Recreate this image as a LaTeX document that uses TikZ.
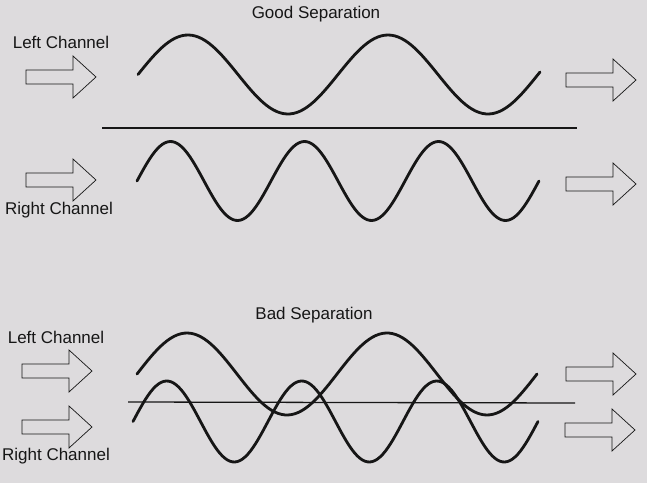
\documentclass[tikz,border=0pt]{standalone}
\usepackage{fontspec}
\setmainfont{Liberation Sans}
\definecolor{paper}{RGB}{221,219,221}
\definecolor{ink}{RGB}{22,22,22}

\begin{document}
\begin{tikzpicture}[x=0.03cm, y=-0.03cm, label/.style={anchor=base, inner sep=0pt, text=ink, font=\fontsize{14.5}{17}\selectfont}, wave/.style={draw=ink, line width=2.4pt, line cap=round, line join=round}, divider/.style={draw=ink, line width=1.4pt}, chanarrow/.pic={\draw[ink, line width=0.6pt, line join=miter] (0,-7) -- (47,-7) -- (47,-21) -- (70,0) -- (47,21) -- (47,7) -- (0,7) -- cycle;}]
\fill[paper] (0,0) rectangle (647,483);
\useasboundingbox (0,0) rectangle (647,483);
% good separation
\node[label] (goodtitle) at (316,19) {Good Separation};
\node[label] (goodleft) at (61,49) {Left Channel};
\node[label] (goodright) at (59,215) {Right Channel};
\pic at (26,77) {chanarrow};
\pic at (26,180) {chanarrow};
\pic at (566,80) {chanarrow};
\pic at (566,184) {chanarrow};
\draw[wave] plot[domain=138:540, samples=120] (\x, {74.5-39.5*sin(1.8*(\x-138))});
\draw[divider] (102,128) -- (577,128);
\draw[wave] plot[domain=137:539, samples=160] (\x, {181-39.5*sin(2.6866*(\x-137))});
% bad separation
\node[label] (badtitle) at (314,319) {Bad Separation};
\node[label] (badleft) at (56,343) {Left Channel};
\node[label] (badright) at (56,460) {Right Channel};
\pic at (22,371) {chanarrow};
\pic at (22,427) {chanarrow};
\pic at (566,374) {chanarrow};
\pic at (565,430) {chanarrow};
\draw[wave] plot[domain=137:537, samples=120] (\x, {374-41*sin(1.8*(\x-137))});
\draw[divider, line width=1.1pt] (128,402) -- (575,403);
\draw[wave] plot[domain=133:538, samples=160] (\x, {421.5-40.5*sin(2.6667*(\x-133))});
\end{tikzpicture}
\end{document}
